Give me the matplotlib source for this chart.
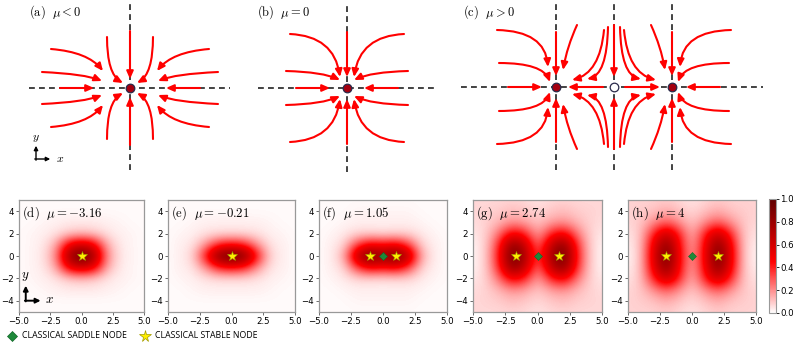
import numpy as np
import matplotlib
matplotlib.use("Agg")
import matplotlib.pyplot as plt
from matplotlib.path import Path
from matplotlib.patches import FancyArrowPatch
from matplotlib.colors import LinearSegmentedColormap

plt.rcParams['mathtext.fontset'] = 'cm'
plt.rcParams['font.family'] = 'DejaVu Sans'

W, H = 793, 347

# ---------------- top row: flow sketches ----------------
# curves of the upper-left quadrant: start, bend, end (pixels from panel centre)
# they are mirrored to the other quadrants
flow_a = [
    [(-79, 39), (-42, 36), (-27, 17)],
    [(-88, 16), (-45, 14), (-28, 7)],
    [(-70, 0), (-53, 0), (-36, 0)],
    [(-23, 51), (-23, 14), (-7, 5)],
    [(0, 57), (0, 33), (0, 9)],
]
flow_b = [
    [(-57, 54), (-13, 52), (-7, 11)],
    [(-61, 17), (-24, 16), (-7, 8)],
    [(-51, 0), (-34, 0), (-17, 0)],
    [(0, 56), (0, 34), (0, 11)],
]
flow_c = [
    [(-117, 57), (-69, 56), (-66, 20)],
    [(-115, 24), (-71, 24), (-64, 5)],
    [(-106, 0), (-89, 0), (-72, 0)],
    [(-58, 55), (-58, 33), (-58, 11)],
    [(-37, 62), (-47, 40), (-51, 17)],
    [(-10, 57), (-14, 14), (-42, 7)],
    [(-6, 60), (-7, 12), (-27, 8)],
    [(0, 62), (0, 36), (0, 10)],
    [(-11, 0), (-28, 0), (-46, 0)],
]
stable_a = [(0, 0)]
stable_b = [(0, 0)]
stable_c = [(-57.7, 0), (57.7, 0)]
saddle_c = [(0, 0)]
# dashed guide lines: (x0, x1) horizontal, (y0, y1) verticals at given x
hline_a, vlines_a, vspan_a = (-101, 100), [0], (-82, 84)
hline_b, vlines_b, vspan_b = (-89, 88), [0], (-84, 85)
hline_c, vlines_c, vspan_c = (-153, 149), [-57.7, 0, 57.7], (-83, 84)
titles_top = [r'$\mathrm{(a)}\ \ \mu<0$', r'$\mathrm{(b)}\ \ \mu=0$', r'$\mathrm{(c)}\ \ \mu>0$']

# ---------------- bottom row: density maps ----------------
mus = ['-3.16', '-0.21', '1.05', '2.74', '4']
labels_bot = ['d', 'e', 'f', 'g', 'h']
# quadrant x = 0..5 (columns), y = 0..5 (rows); mirrored in x and y
dens_d = [[1.00, 0.78, 0.22, 0.05, 0.02, 0.01],
          [0.62, 0.52, 0.16, 0.04, 0.02, 0.01],
          [0.11, 0.09, 0.05, 0.03, 0.02, 0.01],
          [0.04, 0.04, 0.03, 0.02, 0.01, 0.01],
          [0.01, 0.01, 0.01, 0.01, 0.01, 0.01],
          [0.01, 0.01, 0.01, 0.01, 0.01, 0.01]]
dens_e = [[1.00, 0.90, 0.45, 0.08, 0.03, 0.01],
          [0.45, 0.40, 0.20, 0.05, 0.03, 0.01],
          [0.06, 0.06, 0.05, 0.03, 0.02, 0.01],
          [0.03, 0.03, 0.03, 0.02, 0.01, 0.01],
          [0.01, 0.01, 0.01, 0.01, 0.01, 0.01],
          [0.01, 0.01, 0.01, 0.01, 0.01, 0.01]]
dens_f = [[0.80, 0.95, 0.70, 0.15, 0.03, 0.01],
          [0.45, 0.50, 0.35, 0.08, 0.03, 0.01],
          [0.06, 0.07, 0.07, 0.04, 0.02, 0.01],
          [0.03, 0.03, 0.03, 0.02, 0.01, 0.01],
          [0.02, 0.02, 0.02, 0.01, 0.01, 0.01],
          [0.01, 0.01, 0.01, 0.01, 0.01, 0.01]]
dens_g = [[0.28, 0.75, 0.95, 0.42, 0.08, 0.02],
          [0.22, 0.66, 0.86, 0.38, 0.08, 0.02],
          [0.15, 0.40, 0.50, 0.25, 0.08, 0.04],
          [0.10, 0.17, 0.20, 0.13, 0.08, 0.06],
          [0.07, 0.10, 0.12, 0.09, 0.08, 0.07],
          [0.05, 0.07, 0.08, 0.07, 0.07, 0.07]]
dens_h = [[0.15, 0.48, 0.95, 0.55, 0.10, 0.02],
          [0.14, 0.46, 0.87, 0.52, 0.10, 0.03],
          [0.12, 0.40, 0.65, 0.40, 0.10, 0.05],
          [0.10, 0.20, 0.30, 0.20, 0.10, 0.07],
          [0.07, 0.11, 0.15, 0.11, 0.09, 0.08],
          [0.05, 0.07, 0.10, 0.08, 0.08, 0.08]]
stars_x = [[0.0], [0.0], [-1.02, 1.02], [-1.65, 1.65], [-2.0, 2.0]]
saddles_x = [[], [], [0.0], [0.0], [0.0]]
legend_labels = ['CLASSICAL SADDLE NODE', 'CLASSICAL STABLE NODE']

GREEN, GREEN_EDGE = '#1e8a3a', '#116628'
YELLOW, YELLOW_EDGE = '#ffee00', '#a09a00'

fig = plt.figure(figsize=(W / 100, H / 100), dpi=100)


def px_axes(l, t, w, h):
    return fig.add_axes([l / W, 1 - (t + h) / H, w / W, h / H])


def mirror(curves):
    out, seen = [], set()
    for sx in (1, -1):
        for sy in (1, -1):
            for c in curves:
                pts = tuple((sx * x, sy * y) for x, y in c)
                key = tuple((round(x, 1), round(y, 1)) for x, y in pts)
                if key in seen:
                    continue
                seen.add(key)
                out.append(pts)
    return out


def sketch(rect, centre, curves, stable, saddle, hline, vlines, vspan, title, title_x):
    l, t, w, h = rect
    cx, cy = centre
    ax = px_axes(l, t, w, h)
    ax.set_xlim(l - cx, l + w - cx)
    ax.set_ylim(cy - t - h, cy - t)
    ax.axis('off')
    ax.plot(hline, [0, 0], color='#222222', lw=1.2, ls=(0, (3.5, 2.5)), zorder=1)
    for x in vlines:
        ax.plot([x, x], vspan, color='#222222', lw=1.2, ls=(0, (3.5, 2.5)), zorder=1)
    for c in mirror(curves):
        p = Path(list(c), [Path.MOVETO, Path.CURVE3, Path.CURVE3])
        ax.add_patch(FancyArrowPatch(path=p, arrowstyle='-|>,head_length=0.45,head_width=0.2',
                                     mutation_scale=10, color='#ff0000', lw=1.5,
                                     transform=ax.transData, zorder=2))
    for x, y in stable:
        ax.plot(x, y, 'o', ms=6.2, mfc='#a50010', mec='#2a2a4a', mew=0.9, zorder=3)
    for x, y in saddle:
        ax.plot(x, y, 'o', ms=6.2, mfc='white', mec='#2a2a4a', mew=0.9, zorder=3)
    ax.text(title_x - cx, cy - 12, title, fontsize=9, va='center', ha='left')
    return ax


ax_a = sketch((0, 0, 245, 180), (130, 88), flow_a, stable_a, [], hline_a, vlines_a, vspan_a, titles_top[0], 29)
ax_b = sketch((245, 0, 210, 180), (347, 88), flow_b, stable_b, [], hline_b, vlines_b, vspan_b, titles_top[1], 257)
ax_c = sketch((460, 0, 333, 180), (614, 87), flow_c, stable_c, saddle_c, hline_c, vlines_c, vspan_c, titles_top[2], 463)

# small coordinate icon in (a)
ax_a.annotate('', xy=(-94, -55), xytext=(-94, -75), arrowprops=dict(arrowstyle='-|>', color='black', lw=1, mutation_scale=6))
ax_a.annotate('', xy=(-77, -71), xytext=(-98, -71), arrowprops=dict(arrowstyle='-|>', color='black', lw=1, mutation_scale=6))
ax_a.text(-94, -49, r'$y$', fontsize=8.5, ha='center', va='center')
ax_a.text(-70, -71, r'$x$', fontsize=8.5, ha='center', va='center')

# ---------------- bottom row ----------------
cmap = LinearSegmentedColormap.from_list('wr', [(0, '#ffffff'), (0.45, '#ff0000'), (1, '#600000')])
grid = np.arange(-5, 6)
idx = np.abs(grid)
lefts = [19, 168, 319, 473, 628]
widths = [125, 127, 128, 129, 128]
for i, dens in enumerate([dens_d, dens_e, dens_f, dens_g, dens_h]):
    ax = px_axes(lefts[i], 200, widths[i], 112)
    q = np.array(dens)
    full = q[idx][:, idx]
    im = ax.imshow(full, origin='lower', extent=(-5.5, 5.5, -5.5, 5.5), cmap=cmap, vmin=0, vmax=1,
                   interpolation='bicubic', interpolation_stage='data', aspect='auto')
    ax.set_xlim(-5, 5)
    ax.set_ylim(-5, 5)
    ax.set_xticks([-5, -2.5, 0, 2.5, 5])
    ax.set_xticklabels(['−5.0', '−2.5', '0.0', '2.5', '5.0'])
    ax.set_yticks([-4, -2, 0, 2, 4])
    ax.tick_params(labelsize=6.2, length=2, width=0.6, pad=1.5, color='#555555')
    for s in ax.spines.values():
        s.set_color('#999999')
        s.set_linewidth(0.9)
    ax.plot(stars_x[i], [0] * len(stars_x[i]), '*', ms=7.5, mfc=YELLOW, mec=YELLOW_EDGE, mew=0.4, ls='none')
    ax.plot(saddles_x[i], [0] * len(saddles_x[i]), 'D', ms=4, mfc=GREEN, mec=GREEN_EDGE, mew=0.4, ls='none')
    ax.text(-4.75, 3.85, r'$\mathrm{(%s)}\ \ \mu = %s$' % (labels_bot[i], mus[i]),
            fontsize=9.2, va='center', ha='left')
    if i == 0:
        ax.annotate('', xy=(-4.46, -2.4), xytext=(-4.46, -4.3),
                    arrowprops=dict(arrowstyle='-|>', color='black', lw=1.4, mutation_scale=7))
        ax.annotate('', xy=(-3.05, -3.99), xytext=(-4.75, -3.99),
                    arrowprops=dict(arrowstyle='-|>', color='black', lw=1.4, mutation_scale=7))
        ax.text(-4.5, -1.85, r'$y$', fontsize=9.5, ha='center', va='center')
        ax.text(-2.55, -3.85, r'$x$', fontsize=9.5, ha='center', va='center')

cax = px_axes(769, 199, 7, 114)
cb = fig.colorbar(im, cax=cax, ticks=[0, 0.2, 0.4, 0.6, 0.8, 1.0], format='%.1f')
cb.ax.tick_params(labelsize=6.2, length=2, width=0.6, pad=1)
cb.outline.set_edgecolor('#999999')

# legend strip at the bottom, in pixel units
lax = px_axes(0, 326, 300, 20)
lax.set_xlim(0, 300)
lax.set_ylim(0, 20)
lax.axis('off')
lax.plot([12], [10], 'D', ms=5, mfc=GREEN, mec=GREEN_EDGE, mew=0.5)
lax.plot([145], [10], '*', ms=8.5, mfc=YELLOW, mec=YELLOW_EDGE, mew=0.5)
lax.text(22, 10, legend_labels[0], fontsize=6.3, family='Open Sans', va='center', ha='left')
lax.text(155, 10, legend_labels[1], fontsize=6.3, family='Open Sans', va='center', ha='left')

fig.savefig('out.png', dpi=100)
